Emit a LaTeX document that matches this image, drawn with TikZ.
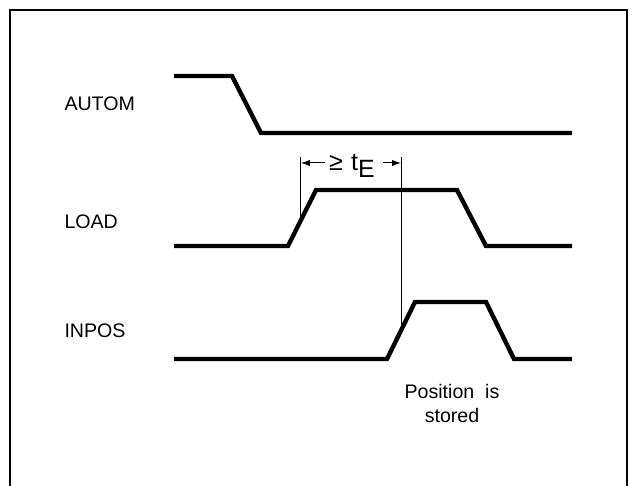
\documentclass[tikz,border=0pt]{standalone}
\usepackage{fontspec}
\setmainfont{Liberation Sans}
\usetikzlibrary{arrows.meta, calc}

\begin{document}
\begin{tikzpicture}[x=0.5pt, y=-0.5pt, >={Latex[length=4.5pt, width=3.2pt]}, line width=0.5pt,
    signal/.style={line width=2.2pt, line join=miter},
    lbl/.style={anchor=west, inner sep=0pt, font=\fontsize{9.8}{11}\selectfont}]
  \useasboundingbox (0,0) rectangle (632,486);
  % ===== frame =====
  \draw[line width=0.8pt] (10,486)--(10,10)--(627,10)--(627,486);
  % ===== signals =====
  \node[lbl] (autom) at (64,104) {AUTOM};
  \draw[signal] (174,76)--(232,76)--(261,133)--(572,133);
  \node[lbl] (load) at (64,222) {LOAD};
  \draw[signal] (174,246)--(288,246) coordinate (L0)--(316,190) coordinate (L1)--(457,190)--(486,246)--(572,246);
  \node[lbl] (inpos) at (64,331) {INPOS};
  \draw[signal] (174,359)--(387,359) coordinate (I0)--(415,302) coordinate (I1)--(486,302)--(514,359)--(572,359);
  % ===== t_E markers =====
  \coordinate (A) at ($(L0)!0.46!(L1)$); \coordinate (B) at ($(I0)!0.5!(I1)$);
  \coordinate (At) at (A|-0,157); \coordinate (Bt) at (B|-0,157);
  \draw (A)--(At); \draw (B)--(Bt);
  \node[font=\fontsize{12.5}{14}\selectfont, inner sep=1pt] (tE) at ($(At)!0.5!(Bt)+(1,9)$) {≥\,\,t\raisebox{-0.5ex}{E}};
  \draw[->] ($(At)+(24,6)$)--($(At)+(0,6)$);
  \draw[->] ($(Bt)+(-18,6)$)--($(Bt)+(0,6)$);
  % ===== note =====
  \node[align=center, font=\fontsize{9.8}{12}\selectfont, inner sep=0pt] (note) at (452,403) {Position\ \ is\\stored};
\end{tikzpicture}
\end{document}
